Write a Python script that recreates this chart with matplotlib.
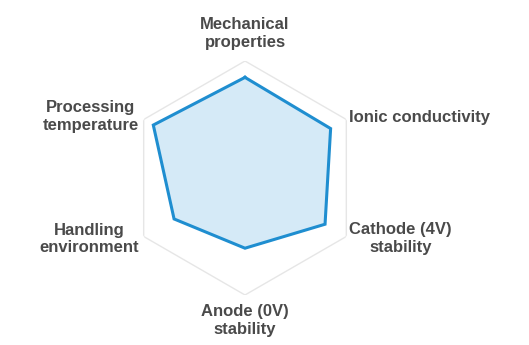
import numpy as np
import matplotlib
matplotlib.use('Agg')
import matplotlib.pyplot as plt

# Radar chart values (0..1 scale, outer hexagon = 1)
categories = ['Mechanical\nproperties', 'Ionic conductivity', 'Cathode (4V)\nstability',
              'Anode (0V)\nstability', 'Handling\nenvironment', 'Processing\ntemperature']
values = [0.86, 0.845, 0.79, 0.60, 0.70, 0.905]

plt.rcParams['font.family'] = ['Liberation Sans', 'DejaVu Sans']

W, H = 529, 345
fig = plt.figure(figsize=(W / 100, H / 100), dpi=100)

# centre and radius of the hexagon in pixels
cx, cy, R = 245, 178, 117
ax = fig.add_axes([(cx - R) / W, (H - cy - R) / H, 2 * R / W, 2 * R / H], projection='polar')
ax.set_theta_offset(np.pi / 2)
ax.set_theta_direction(-1)
ax.set_ylim(0, 1)
ax.grid(False)
ax.set_xticks([])
ax.set_yticks([])
ax.spines['polar'].set_visible(False)
ax.patch.set_alpha(0)

n = len(categories)
angles = np.linspace(0, 2 * np.pi, n, endpoint=False)
ang_closed = np.append(angles, angles[0])

# outer hexagon grid
ax.plot(ang_closed, np.ones(n + 1), color='#e6e6e6', lw=1.0, zorder=1)

vals_closed = np.append(values, values[0])
ax.fill(ang_closed, vals_closed, color='#d5eaf7', zorder=2)
ax.plot(ang_closed, vals_closed, color='#1f8ed0', lw=2.2, zorder=3, solid_joinstyle='miter')

# label placement
label_r = [1.235, 1.03, 1.03, 1.22, 1.045, 1.05]
label_ha = ['center', 'left', 'left', 'center', 'right', 'right']
for a, lab, r, ha in zip(angles, categories, label_r, label_ha):
    ax.text(a, r, lab, ha=ha, va='center', multialignment='center',
            fontsize=12, fontweight='bold', color='#4a4a4a', linespacing=1.22)

fig.savefig('out.png', dpi=100)
